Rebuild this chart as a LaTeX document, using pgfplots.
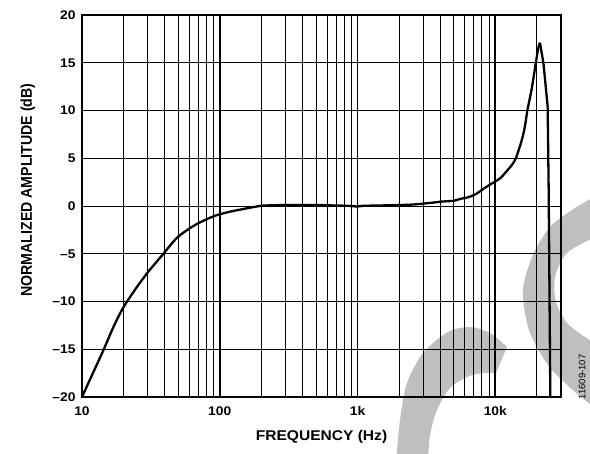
\documentclass[border=0pt]{standalone}
\usepackage{graphicx}
\usepackage{pgfplots}
\pgfplotsset{compat=1.18}
\usepackage{fontspec}
\setmainfont{Liberation Sans}
\newcommand\sx[1]{\scalebox{1.1}[1]{#1}}
\begin{document}
\begin{tikzpicture}
% grey watermark behind the chart (image coordinates, y downwards)
\begin{scope}[overlay, x=1bp, y=-1bp, shift={(-82bp,397bp)}]
  \fill[black!25] plot[smooth] coordinates {(396,462) (400,420) (407,383) (423,353) (448,332) (470,327) (490,333) (507,347)}
    -- plot[smooth] coordinates {(496,373) (483,373) (467,377) (450,388) (437,410) (430,435) (428,462)} -- cycle;
  \fill[black!25] plot[smooth] coordinates {(598,195) (575,208) (550,227) (533,255) (523,290) (529,330) (548,365) (575,392) (598,410)}
    -- plot[smooth] coordinates {(598,345) (585,337) (567,323) (556,302) (555,277) (566,254) (585,242) (598,237)} -- cycle;
\end{scope}
\begin{axis}[
  name=main,
  scale only axis,
  width=479bp, height=382bp,
  xmode=log,
  xmin=10, xmax=30000,
  ymin=-20, ymax=20,
  xtick={10,100,1000,10000},
  xticklabels={\sx{10},\sx{100},\sx{1k},\sx{10k}},
  ytick={-20,-15,...,20},
  yticklabels={\sx{\textendash20},\sx{\textendash15},\sx{\textendash10},\sx{\textendash5},\sx{0},\sx{5},\sx{10},\sx{15},\sx{20}},
  minor ytick={-15,-10,...,15},
  minor xtick={20,30,40,50,60,70,80,90,200,300,400,500,600,700,800,900,2000,3000,4000,5000,6000,7000,8000,9000,20000},
  xmajorgrids=true, xminorgrids=true,
  ymajorgrids=false, yminorgrids=true,
  major grid style={black, line width=1.7bp},
  minor grid style={black, line width=0.9bp},
  major tick length=0pt, minor tick length=0pt,
  axis line style={black, line width=1.4bp},
  tick label style={font=\fontsize{12.6}{14}\selectfont\bfseries},
  x tick label style={yshift=-6bp},
  y tick label style={xshift=-3bp},
  xlabel={\sx{FREQUENCY (Hz)}},
  ylabel={\scalebox{1}[1.1]{NORMALIZED AMPLITUDE (dB)}},
  label style={font=\fontsize{14.2}{16}\selectfont\bfseries},
  xlabel style={at={(axis description cs:0.5,-0.105)}, anchor=center},
  ylabel style={at={(axis description cs:-0.113,0.542)}, anchor=center},
  clip=true,
]
% smooth part of the response
\addplot[black, line width=2.3bp, smooth, tension=0.5] coordinates {
(10,-20) (12,-17.5) (14.4,-15) (17,-12.6) (20,-10.6) (25,-8.5)
(30,-6.95) (35,-5.8) (40,-4.8) (45,-3.9) (50,-3.2) (60,-2.37) (70,-1.8)
(80,-1.4) (90,-1.08) (100,-0.87) (120,-0.58) (150,-0.3) (200,0.02) (250,0.08)
(300,0.1) (400,0.1) (500,0.1) (600,0.08) (700,0.05) (850,0.02) (1000,-0.05)
(1100,0.02) (1500,0.06) (2000,0.1) (2500,0.15) (3000,0.25) (3500,0.35) (4000,0.45)
(4500,0.5) (5000,0.55) (5600,0.75) (6300,0.9) (7000,1.15) (7600,1.45)
(8300,1.85) (9300,2.3) (10400,2.72) (11000,2.97) (12300,3.77) (13200,4.3)
(14100,5.0) (15500,6.8) (16400,8.3) (17100,10) (18400,12.3) (19700,15)
(20500,16.5) (21100,17.1)
};
% peak and roll-off
\addplot[black, line width=2.3bp, line join=round] coordinates {
(21100,17.1) (22400,14.9) (24000,10.4) (24400,2) (25100,-20)
};
\end{axis}
\node[rotate=90, anchor=center, font=\fontsize{9.5}{11}\selectfont] at ([xshift=21bp,yshift=20bp]main.south east) {11609-107};
\useasboundingbox ([xshift=-82bp,yshift=-57bp]main.south west) rectangle ([xshift=508bp,yshift=397bp]main.south west);
\end{tikzpicture}
\end{document}
